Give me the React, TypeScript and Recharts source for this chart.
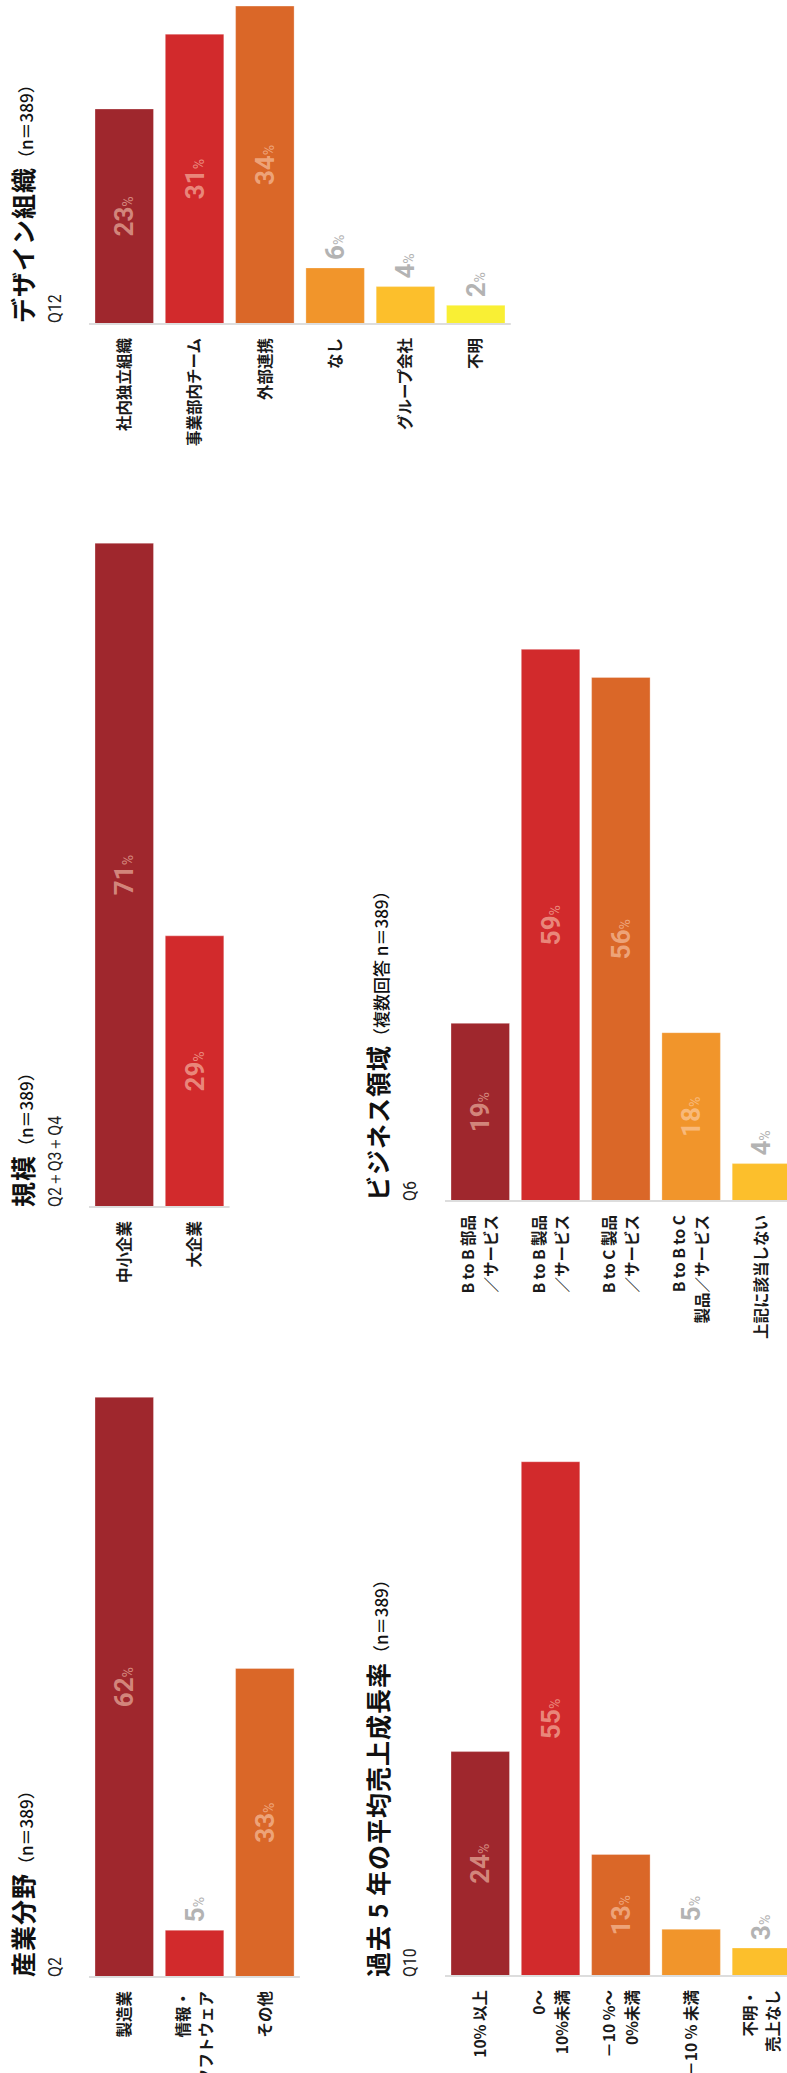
import { BarChart, Bar, XAxis, YAxis, Cell, LabelList } from 'recharts'

// survey results, % of respondents (n=389)
const industryLabels = ['製造業', '情報・\nソフトウェア', 'その他']
const industryValues = [62, 5, 33]

const sizeLabels = ['中小企業', '大企業']
const sizeValues = [71, 29]

const designOrgLabels = ['社内独立組織', '事業部内チーム', '外部連携', 'なし', 'グループ会社', '不明']
const designOrgValues = [23, 31, 34, 6, 4, 2]

const growthLabels = ['10% 以上', '0～\n10%未満', '－10 %～\n0%未満', '－10 % 未満', '不明・\n売上なし']
const growthValues = [24, 55, 13, 5, 3]

const businessLabels = [
  'B to B 部品\n／サービス',
  'B to B 製品\n／サービス',
  'B to C 製品\n／サービス',
  'B to B to C\n製品／サービス',
  '上記に該当しない',
]
const businessValues = [19, 59, 56, 18, 4]

const COLORS = ['#9f272d', '#d22a2c', '#da6728', '#f1952b', '#fcbf2c', '#f9ef34']
const PX_PER_PCT = 9.35
const BAND = 70.3

const JP = '"Noto Sans CJK JP", sans-serif'
const NUM = 'Roboto, "Noto Sans", sans-serif'

const CatTick = ({ x, y, payload }: any) => {
  const lines = String(payload.value).split('\n')
  const offsets = lines.length === 1 ? [0] : [-11.5, 11.5]
  return (
    <text textAnchor="end" fontFamily={JP} fontSize={15.5} fontWeight={700} fill="#1a1a1a">
      {lines.map((l, i) => (
        <tspan key={i} x={x} y={y + offsets[i] + 5.8}>
          {l}
        </tspan>
      ))}
    </text>
  )
}

const ValueLabel = ({ x, y, width, height, value }: any) => {
  const inside = value >= 10
  const base = y + height / 2 + 9
  return (
    <text
      x={inside ? x + width / 2 : x + width + 8}
      y={base}
      textAnchor={inside ? 'middle' : 'start'}
      fill={inside ? '#ffd9c0' : '#b3b3b3'}
      fillOpacity={inside ? 0.55 : 1}
      fontFamily={NUM}
    >
      <tspan fontSize={26} fontWeight={700}>{value}</tspan>
      <tspan fontSize={14}>%</tspan>
    </text>
  )
}

interface PanelProps {
  labels: string[]
  values: number[]
  left: number
  top: number
  axisWidth: number
  max: number
}

function Panel({ labels, values, left, top, axisWidth, max }: PanelProps) {
  const data = labels.map((name, i) => ({ name, value: values[i] }))
  return (
    <div style={{ position: 'absolute', left, top }}>
      <BarChart
        layout="vertical"
        width={axisWidth + max * PX_PER_PCT}
        height={labels.length * BAND}
        data={data}
        margin={{ top: 0, right: 0, bottom: 0, left: 0 }}
        barCategoryGap={0}
      >
        <XAxis type="number" domain={[0, max]} hide />
        <YAxis
          type="category"
          dataKey="name"
          width={axisWidth}
          tickLine={false}
          tickSize={0}
          tickMargin={14}
          interval={0}
          axisLine={{ stroke: '#dddddd', strokeWidth: 2 }}
          tick={<CatTick />}
        />
        <Bar dataKey="value" barSize={58.5} stroke="#ffffff" strokeOpacity={0.3} strokeWidth={1} isAnimationActive={false}>
          {data.map((_, i) => (
            <Cell key={i} fill={COLORS[i]} />
          ))}
          <LabelList dataKey="value" content={<ValueLabel />} />
        </Bar>
      </BarChart>
    </div>
  )
}

const Title = ({ x, y, main, sub, q, qy }: any) => (
  <g>
    <text x={x} y={y} fontFamily={JP} fill="#111">
      <tspan fontSize={25} fontWeight={700} letterSpacing={1}>{main}</tspan>
      <tspan fontSize={17} fontWeight={500}>{sub}</tspan>
    </text>
    <text transform={`translate(${x} ${qy}) scale(0.88 1)`} fontFamily={NUM} fontSize={18} fill="#222">
      {q}
    </text>
  </g>
)

export default function App() {
  // page is laid out landscape (2073 x 787) and turned a quarter to fit the portrait window
  return (
    <div style={{ position: 'absolute', left: 0, top: 0, width: 787, height: 2073, overflow: 'hidden', background: '#fff' }}>
      <div
        style={{
          position: 'absolute',
          left: 0,
          top: 0,
          width: 2073,
          height: 787,
          transformOrigin: '0 0',
          transform: 'translate(0px, 2073px) rotate(-90deg)',
        }}
      >
        <svg width={2073} height={787} style={{ position: 'absolute', left: 0, top: 0 }}>
          <Title x={96} y={33} main="産業分野" sub="（n＝389）" q="Q2" qy={61} />
          <Title x={866} y={33} main="規模" sub="（n＝389）" q="Q2＋Q3＋Q4" qy={61} />
          <Title x={1750} y={33} main="デザイン組織" sub="（n＝389）" q="Q12" qy={61} />
          <Title x={96} y={388} main="過去 5 年の平均売上成長率" sub="（n＝389）" q="Q10" qy={416} />
          <Title x={872} y={388} main="ビジネス領域" sub="（複数回答 n＝389）" q="Q6" qy={416} />
        </svg>
        <Panel labels={industryLabels} values={industryValues} left={0} top={89.35} axisWidth={96} max={64} />
        <Panel labels={sizeLabels} values={sizeValues} left={726} top={89.35} axisWidth={140} max={72} />
        <Panel labels={designOrgLabels} values={designOrgValues} left={1609} top={89.35} axisWidth={140} max={34} />
        <Panel labels={growthLabels} values={growthValues} left={0} top={444.85} axisWidth={97} max={56} />
        <Panel labels={businessLabels} values={businessValues} left={732} top={444.85} axisWidth={140} max={60} />
      </div>
    </div>
  )
}
